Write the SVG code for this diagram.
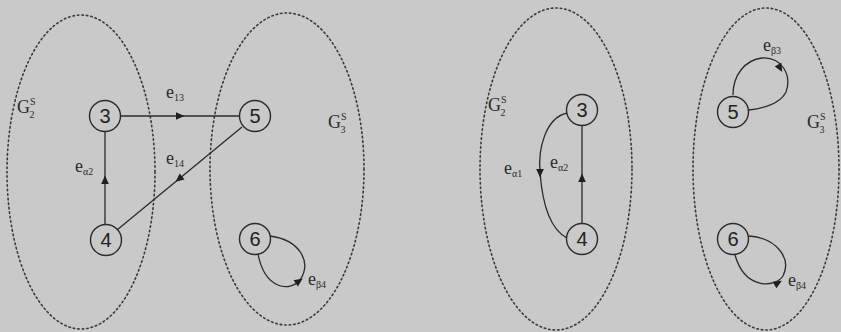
<svg xmlns="http://www.w3.org/2000/svg" xmlns:xlink="http://www.w3.org/1999/xlink" width="841" height="332" viewBox="0 0 841 332">
<style>
.bg{fill:#c9c9c9}
.grp{fill:none;stroke:#3a3a3a;stroke-width:1.6;stroke-dasharray:1.5 3;stroke-linecap:round}
.node circle{fill:none;stroke:#2a2a2a;stroke-width:1.4}
.node text{font-family:"Liberation Sans",Arial,sans-serif;font-size:20px;fill:#222;text-anchor:middle}
.edge{fill:none;stroke:#2a2a2a;stroke-width:1.3}
.ah{fill:#1e1e1e}
.lbl{font-family:"Liberation Serif","Times New Roman",serif;font-size:18px;fill:#2a2a2a}
.sub{font-size:10px}
</style>
<defs>
<path id="ah" d="M4.5,0 L-4,-3.8 L-4,3.8 Z"/>
</defs>
<rect class="bg" x="0" y="0" width="841" height="332"/>

<g id="subgraphs">
<ellipse class="grp" cx="81" cy="172" rx="74" ry="157"/>
<ellipse class="grp" cx="287" cy="169" rx="77" ry="156"/>
<ellipse class="grp" cx="556" cy="169" rx="76" ry="161"/>
<ellipse class="grp" cx="766" cy="169" rx="73" ry="161"/>
</g>

<g id="connectors">
<line class="edge" x1="120" y1="116" x2="239" y2="116"/>
<use class="ah" xlink:href="#ah" transform="translate(180,116)"/>
<line class="edge" x1="105" y1="132" x2="105" y2="224"/>
<use class="ah" xlink:href="#ah" transform="translate(105,180) rotate(-90)"/>
<line class="edge" x1="242" y1="127" x2="117" y2="230"/>
<use class="ah" xlink:href="#ah" transform="translate(179,179) rotate(140.5)"/>
<path class="edge" d="M270,236 C300,240 312,262 300,280 C290,292 265,290 258,254"/>
<use class="ah" xlink:href="#ah" transform="translate(299,281) rotate(-35)"/>

<line class="edge" x1="582" y1="126" x2="582" y2="223"/>
<use class="ah" xlink:href="#ah" transform="translate(582,178) rotate(-90)"/>
<path class="edge" d="M567,113 C545,118 538,150 540,172 C542,200 548,228 567,238"/>
<use class="ah" xlink:href="#ah" transform="translate(540,173) rotate(90)"/>
<path class="edge" d="M733,95 C733,75 745,60 762,58 C782,57 792,75 786,92 C780,104 765,108 749,110"/>
<use class="ah" xlink:href="#ah" transform="translate(780,68) rotate(60)"/>
<path class="edge" d="M749,236 C776,238 792,258 783,276 C775,288 745,290 735,255"/>
<use class="ah" xlink:href="#ah" transform="translate(778,283) rotate(-30)"/>
</g>

<g id="n3a" class="node"><circle cx="105" cy="116" r="15.5"/><text x="105" y="123">3</text></g>
<g id="n5a" class="node"><circle cx="255" cy="116" r="15.5"/><text x="255" y="123">5</text></g>
<g id="n4a" class="node"><circle cx="106" cy="240" r="15.5"/><text x="106" y="247">4</text></g>
<g id="n6a" class="node"><circle cx="255" cy="239" r="15.5"/><text x="255" y="246">6</text></g>

<g id="n3b" class="node"><circle cx="582" cy="110" r="15.5"/><text x="582" y="117">3</text></g>
<g id="n4b" class="node"><circle cx="582" cy="239" r="15.5"/><text x="582" y="246">4</text></g>
<g id="n5b" class="node"><circle cx="733" cy="112" r="15.5"/><text x="733" y="119">5</text></g>
<g id="n6b" class="node"><circle cx="733" cy="239" r="15.5"/><text x="733" y="246">6</text></g>

<g id="labels">
<text class="lbl" x="17" y="113">G<tspan class="sub" dy="-8">S</tspan><tspan class="sub" dx="-6" dy="13">2</tspan></text>
<text class="lbl" x="328" y="128">G<tspan class="sub" dy="-8">S</tspan><tspan class="sub" dx="-6" dy="13">3</tspan></text>
<text class="lbl" x="166" y="98">e<tspan class="sub" dy="3">13</tspan></text>
<text class="lbl" x="166" y="164">e<tspan class="sub" dy="3">14</tspan></text>
<text class="lbl" x="75" y="172">e<tspan class="sub" dy="3">α2</tspan></text>
<text class="lbl" x="308" y="285">e<tspan class="sub" dy="3">β4</tspan></text>

<text class="lbl" x="488" y="111">G<tspan class="sub" dy="-8">S</tspan><tspan class="sub" dx="-6" dy="13">2</tspan></text>
<text class="lbl" x="807" y="128">G<tspan class="sub" dy="-8">S</tspan><tspan class="sub" dx="-6" dy="13">3</tspan></text>
<text class="lbl" x="504" y="174">e<tspan class="sub" dy="3">α1</tspan></text>
<text class="lbl" x="550" y="168">e<tspan class="sub" dy="3">α2</tspan></text>
<text class="lbl" x="763" y="51">e<tspan class="sub" dy="3">β3</tspan></text>
<text class="lbl" x="788" y="286">e<tspan class="sub" dy="3">β4</tspan></text>
</g>
</svg>
